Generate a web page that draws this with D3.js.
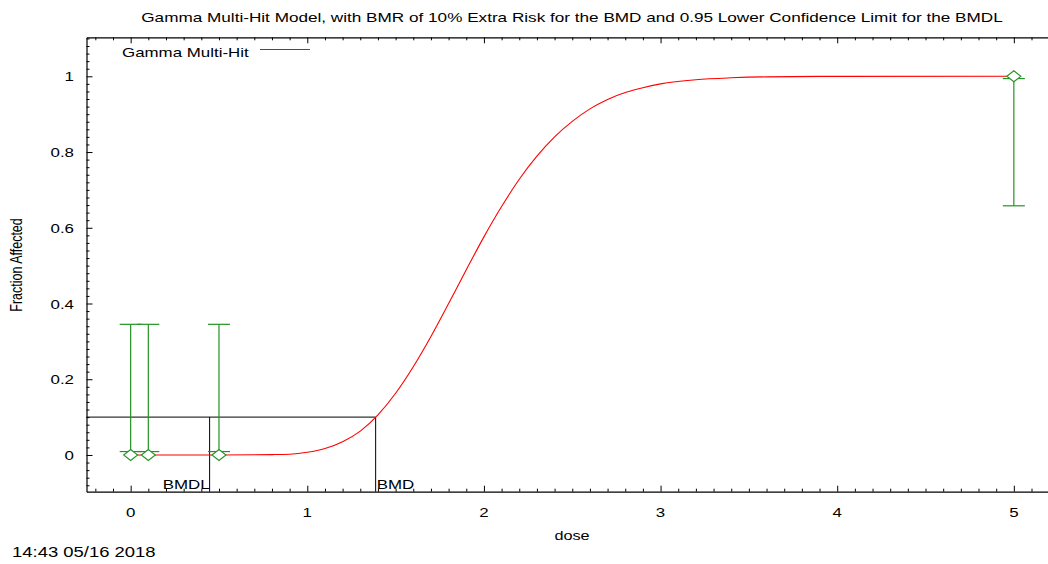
<!DOCTYPE html>
<html>
<head>
<meta charset="utf-8">
<script src="https://cdn.jsdelivr.net/npm/d3@7"></script>
<style>
  html, body { margin: 0; padding: 0; background: #fff; }
  svg { display: block; }
  text { font-family: "Liberation Sans", Arial, sans-serif; fill: #000; }
</style>
</head>
<body>
<svg id="chart" width="1048" height="564"></svg>
<script>
// Observed dose groups with fraction affected and 95% confidence bounds
const doses = [0, 0.1, 0.5, 5];
const observed = [0, 0, 0, 1];
const lowerCI = [0.009, 0.009, 0.009, 0.658];
const upperCI = [0.345, 0.345, 0.345, 0.994];

// Fitted Gamma Multi-Hit curve, sampled along the dose axis
const curveDose = [0, 0.5, 0.8, 0.9, 1.0, 1.1, 1.2, 1.3, 1.4, 1.5, 1.6, 1.7, 1.8, 1.9, 2.0, 2.1, 2.2, 2.3, 2.4, 2.5, 2.6, 2.7, 2.8, 2.9, 3.0, 3.2, 3.4, 3.6, 4.0, 5.0];
const curveFrac = [0, 0, 0.001, 0.002, 0.007, 0.017, 0.035, 0.063, 0.106, 0.163, 0.233, 0.313, 0.400, 0.489, 0.576, 0.656, 0.728, 0.789, 0.840, 0.881, 0.914, 0.939, 0.957, 0.970, 0.980, 0.991, 0.996, 0.9985, 0.9998, 1.0];

// Benchmark results
const bmr = 0.1;
const bmd = 1.387;
const bmdl = 0.447;

// Axis ticks and labels
const xTicks = [0, 1, 2, 3, 4, 5];
const xTickLabels = ["0", "1", "2", "3", "4", "5"];
const yTicks = [0, 0.2, 0.4, 0.6, 0.8, 1];
const yTickLabels = ["0", "0.2", "0.4", "0.6", "0.8", "1"];

const titleText = "Gamma Multi-Hit Model, with BMR of 10% Extra Risk for the BMD and 0.95 Lower Confidence Limit for the BMDL";
const legendText = "Gamma Multi-Hit";
const xLabel = "dose";
const yLabel = "Fraction Affected";
const stamp = "14:43 05/16 2018";

// Layout
const svg = d3.select("#chart");
const SX = 1.3;          // horizontal glyph stretch used throughout the plot
const FS = 13;
const plotLeft = 86.5, plotTop = 37.3, plotBottom = 491.7, plotRight = 1058;
const green = "#259225";

const x = d3.scaleLinear().domain([-0.25, 5.25]).range([plotLeft, plotRight]);
const y = d3.scaleLinear().domain([-0.097, 1.103]).range([plotBottom, plotTop]);

function label(g, str, px, py, anchor, size, rot) {
  return g.append("text")
    .attr("transform", `translate(${px},${py}) scale(${SX},1)` + (rot ? ` rotate(${rot})` : ""))
    .attr("text-anchor", anchor)
    .attr("font-size", size)
    .text(str);
}

const minorX = d3.range(-2, 53).map(i => i / 10).filter(v => v >= -0.25 && v <= 5.25 && !xTicks.includes(v));
const minorY = d3.range(-4, 56).map(i => Math.round(i * 2) / 100).filter(v => v >= -0.097 && v <= 1.103 && !yTicks.map(t => t.toFixed(2)).includes(v.toFixed(2)));

// Bottom axis (ticks point into the plot)
const axB = svg.append("g").attr("transform", `translate(0,${plotBottom})`);
axB.call(d3.axisTop(x).tickValues(xTicks).tickSize(6).tickSizeOuter(0).tickFormat(""));
axB.append("g").call(d3.axisTop(x).tickValues(minorX).tickSize(3).tickSizeOuter(0).tickFormat(""))
  .select(".domain").remove();

// Top axis
const axT = svg.append("g").attr("transform", `translate(0,${plotTop})`);
axT.call(d3.axisBottom(x).tickValues(xTicks).tickSize(6).tickSizeOuter(0).tickFormat(""));
axT.append("g").call(d3.axisBottom(x).tickValues(minorX).tickSize(3).tickSizeOuter(0).tickFormat(""))
  .select(".domain").remove();

// Left axis
const axL = svg.append("g").attr("transform", `translate(${plotLeft},0)`);
axL.call(d3.axisRight(y).tickValues(yTicks).tickSize(6).tickSizeOuter(0).tickFormat(""));
axL.append("g").call(d3.axisRight(y).tickValues(minorY).tickSize(3).tickSizeOuter(0).tickFormat(""))
  .select(".domain").remove();

svg.selectAll(".domain").attr("stroke", "#000").attr("stroke-width", 1.2);
svg.selectAll(".tick line").attr("stroke", "#000");

// Tick labels
const tl = svg.append("g");
xTicks.forEach((v, i) => label(tl, xTickLabels[i], x(v), 517, "middle", FS));
yTicks.forEach((v, i) => label(tl, yTickLabels[i], 74, y(v) + 5, "end", FS));

// Axis titles, plot title and time stamp
label(svg, titleText, 572, 22, "middle", 13.2);
label(svg, xLabel, 572, 540, "middle", 12.5);
label(svg, yLabel, 22, 265, "middle", 12.5, -90);
label(svg, stamp, 12, 557, "start", 14.2);

// BMD / BMDL reference lines
const ref = svg.append("g").attr("stroke", "#000").attr("stroke-width", 1).attr("fill", "none");
ref.append("line").attr("x1", plotLeft).attr("x2", x(bmd)).attr("y1", y(bmr)).attr("y2", y(bmr));
ref.append("line").attr("x1", x(bmd)).attr("x2", x(bmd)).attr("y1", y(bmr)).attr("y2", plotBottom);
ref.append("line").attr("x1", x(bmdl)).attr("x2", x(bmdl)).attr("y1", y(bmr)).attr("y2", plotBottom);
label(svg, "BMDL", x(bmdl), 489, "end", FS);
label(svg, "BMD", x(bmd) + 1, 489, "start", FS);

// Fitted curve
const line = d3.line().x((d, i) => x(curveDose[i])).y((d, i) => y(curveFrac[i])).curve(d3.curveMonotoneX);
svg.append("path").datum(curveFrac).attr("d", line)
  .attr("fill", "none").attr("stroke", "#ff0000").attr("stroke-width", 1.1);

// Error bars
const eb = svg.append("g").attr("stroke", green).attr("stroke-width", 1.2);
doses.forEach((d, i) => {
  const cx = x(d);
  eb.append("line").attr("x1", cx).attr("x2", cx).attr("y1", y(lowerCI[i])).attr("y2", y(upperCI[i]));
  eb.append("line").attr("x1", cx - 11).attr("x2", cx + 11).attr("y1", y(lowerCI[i])).attr("y2", y(lowerCI[i]));
  eb.append("line").attr("x1", cx - 11).attr("x2", cx + 11).attr("y1", y(upperCI[i])).attr("y2", y(upperCI[i]));
});

// Observed points (hollow diamonds)
const sym = svg.append("g");
doses.forEach((d, i) => {
  const cx = x(d), cy = y(observed[i]);
  sym.append("path")
    .attr("d", `M${cx - 7},${cy} L${cx},${cy - 5.5} L${cx + 7},${cy} L${cx},${cy + 5.5} Z`)
    .attr("fill", "#fff").attr("stroke", green).attr("stroke-width", 1.1);
});

// Legend
label(svg, legendText, 122, 57, "start", FS);
svg.append("line").attr("x1", 260).attr("x2", 310).attr("y1", 49.5).attr("y2", 49.5)
  .attr("stroke", "#ff0000").attr("stroke-width", 1.1);
</script>
</body>
</html>
